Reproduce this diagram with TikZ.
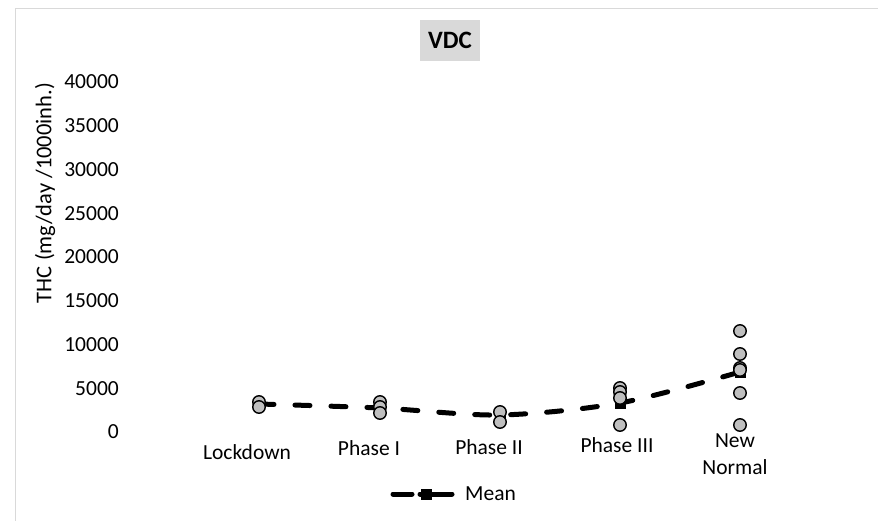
\documentclass[tikz,border=0pt]{standalone}
\usepackage{fontspec}
\setmainfont{Carlito}
\definecolor{framegray}{HTML}{D9D9D9}
\definecolor{dotgray}{HTML}{BFBFBF}
\definecolor{titlegray}{HTML}{D9D9D9}
\begin{document}
\begin{tikzpicture}[x=1pt,y=-1pt,
  lab/.style={font=\fontsize{21.5}{27}\selectfont, inner sep=0pt},
  ticklab/.style={lab, anchor=east},
  catlab/.style={lab, align=center},
  datadot/.style={circle, fill=dotgray, draw=black, line width=1.4pt, minimum size=12.5pt, inner sep=0pt},
  meanmark/.style={rectangle, fill=black, minimum size=11pt, inner sep=0pt},
  meanline/.style={line width=5pt, line cap=round, dash pattern=on 15pt off 21pt},
]
\useasboundingbox (0,0) rectangle (878,521);
\fill[white] (0,0) rectangle (878,521);
% chart frame
\draw[framegray, line width=1.6pt] (15.5,530) -- (15.5,8.5) -- (890,8.5);
% title
\node[fill=titlegray, minimum width=60pt, minimum height=41pt, inner sep=0pt,
      font=\fontsize{25}{29}\selectfont\bfseries] (title) at (450,40.5) {VDC};
% y tick labels
\foreach \v [count=\i from 0] in {0,5000,10000,15000,20000,25000,30000,35000,40000}{
  \node[ticklab] (yt\i) at (119,{432-\i*43.75}) {\v};
}
% y axis title
\node[lab, rotate=90, font=\fontsize{22.5}{27}\selectfont] (ytitle) at (45,193) {THC (mg/day /1000inh.)};
% category labels
\node[catlab] (c1) at (247,452) {Lockdown};
\node[catlab] (c2) at (369,448) {Phase I};
\node[catlab] (c3) at (489,447) {Phase II};
\node[catlab] (c4) at (617,445) {Phase III};
\node[catlab, anchor=north] (c5) at (735,434) {New\\Normal};
% mean curve
\coordinate (m1) at (259,404);
\coordinate (m2) at (380,408);
\coordinate (m3) at (500,415);
\coordinate (m4) at (620,403);
\coordinate (m5) at (740,372);
\draw[meanline] plot[smooth, tension=0.5] coordinates {(259,404) (380,408) (500,415) (620,403) (740,372)};
\foreach \k in {1,...,5}{ \node[meanmark] (mm\k) at (m\k) {}; }
% data points
\foreach \x/\y [count=\j] in {259/402, 259/407,
  380/402, 380/407, 380/413,
  500/412, 500/422,
  620/388, 620/392, 620/398, 620/425,
  740/331, 740/354, 740/368, 740/370, 740/393, 740/425}{
  \node[datadot] (d\j) at (\x,\y) {};
}
% legend
\coordinate (la) at (393,494);
\coordinate (lb) at (412,494);
\coordinate (lc) at (420,494);
\coordinate (ld) at (452,494);
\draw[line width=5pt, line cap=round] (la) -- (lb);
\draw[line width=5pt, line cap=round] (lc) -- (ld);
\node[meanmark] (lm) at (426,494) {};
\node[lab, anchor=west] (ltext) at (465,494) {Mean};
\end{tikzpicture}
\end{document}
